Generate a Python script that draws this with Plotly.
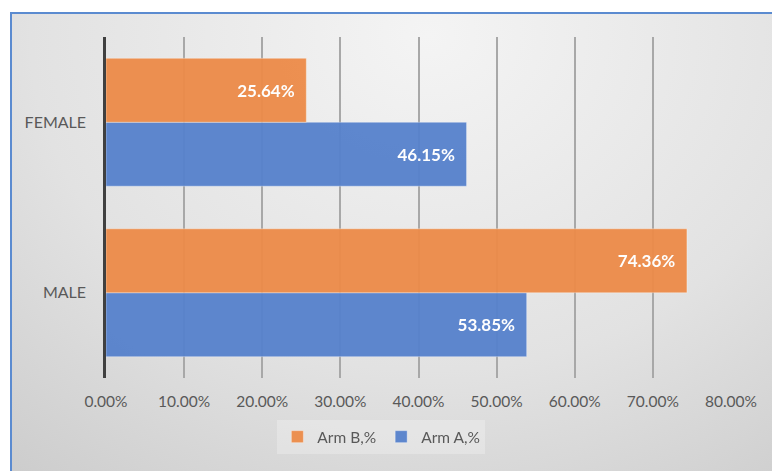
import base64
import plotly.graph_objects as go

categories = ["MALE", "FEMALE"]
arm_a = [53.85, 46.15]
arm_b = [74.36, 25.64]
tick_vals = [0, 10, 20, 30, 40, 50, 60, 70, 80]
tick_text = [f"{v:.2f}%" for v in tick_vals]

W, H = 772, 471
L, R, T, B = 106, 41, 37, 93
pw, ph = W - L - R, H - T - B

# background panel (gradient + blue border) as an SVG image
bx0, by0 = 10, 12
bw, bh = W - bx0, H - by0
svg = f'''<svg xmlns="http://www.w3.org/2000/svg" width="{bw}" height="{bh}" viewBox="0 0 {bw} {bh}" preserveAspectRatio="none">
<defs><radialGradient id="g" cx="0.55" cy="0.05" r="0.95" gradientTransform="translate(0.55 0.05) scale(1 1.4) translate(-0.55 -0.05)">
<stop offset="0" stop-color="#F4F4F4"/><stop offset="0.55" stop-color="#E2E2E2"/><stop offset="1" stop-color="#C8C8C8"/></radialGradient></defs>
<rect x="0" y="0" width="{bw}" height="{bh}" fill="url(#g)"/>
<line x1="0" y1="1" x2="{bw}" y2="1" stroke="#5B8BD0" stroke-width="2"/>
<line x1="1" y1="0" x2="1" y2="{bh}" stroke="#5B8BD0" stroke-width="2"/>
</svg>'''
src = "data:image/svg+xml;base64," + base64.b64encode(svg.encode()).decode()

def lab(vals):
    return [f"<b>{v:.2f}%</b>&nbsp;&nbsp;" for v in vals]

label_font = dict(color="#FFFFFF", size=17, family="Lato")

fig = go.Figure()
fig.add_trace(go.Bar(
    y=categories, x=arm_a, orientation="h", name="Arm A,%",
    marker=dict(color="#5681CC", line=dict(color="rgba(255,255,255,0.35)", width=1)),
    opacity=0.95,
    text=lab(arm_a), textposition="inside", insidetextanchor="end",
    textfont=label_font,
))
fig.add_trace(go.Bar(
    y=categories, x=arm_b, orientation="h", name="Arm B,%",
    marker=dict(color="#EC8B48", line=dict(color="rgba(255,255,255,0.35)", width=1)),
    opacity=0.95,
    text=lab(arm_b), textposition="inside", insidetextanchor="end",
    textfont=label_font,
))

fig.update_layout(
    width=W, height=H,
    margin=dict(l=L, r=R, t=T, b=B),
    paper_bgcolor="white",
    plot_bgcolor="rgba(0,0,0,0)",
    barmode="group", bargap=0.25, bargroupgap=0,
    font=dict(family="Lato", size=15.5, color="#595959"),
    images=[dict(
        source=src, xref="paper", yref="paper",
        x=(bx0 - L) / pw, y=(H - B - by0) / ph,
        sizex=bw / pw, sizey=bh / ph,
        xanchor="left", yanchor="top", sizing="stretch", layer="below",
    )],
    xaxis=dict(
        range=[0, 80], tickvals=tick_vals, ticktext=tick_text,
        showgrid=True, gridcolor="#A8A8A8", gridwidth=1.5,
        zeroline=False, showline=False, ticks="", ticklabelstandoff=12,
        tickfont=dict(size=15.5, color="#595959"), automargin=False,
    ),
    yaxis=dict(
        showgrid=False, zeroline=False, showline=True, linecolor="#404040", linewidth=2.5,
        ticks="", ticklabelstandoff=14, automargin=False,
        tickfont=dict(size=16, color="#595959"),
    ),
    showlegend=True,
    legend=dict(
        orientation="h", traceorder="reversed",
        xref="container", yref="container", x=0.494, y=0.072,
        xanchor="center", yanchor="middle",
        bgcolor="rgba(255,255,255,0.25)",
        font=dict(size=15.5, color="#595959"),
        itemwidth=30,
    ),
)

fig.write_html("out.html")
